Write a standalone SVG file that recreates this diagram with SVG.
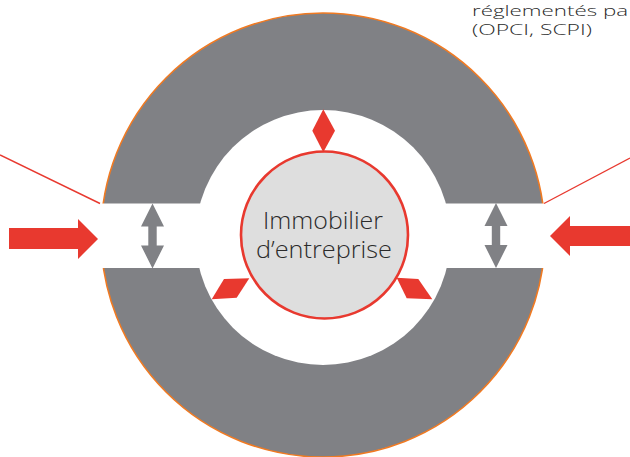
<svg xmlns="http://www.w3.org/2000/svg" width="630" height="457" viewBox="0 0 630 457">
  <style>
    .label { font-family: "Open Sans", "Liberation Sans", sans-serif; font-weight: 300; fill: #2b2b2b; }
    .red { fill: #e8392f; }
    .grey { fill: #808185; }
    .lead { stroke: #e8392f; stroke-width: 1.4; fill: none; }
  </style>
  <defs>
    <!-- vertical two-way arrow, centred on x=0, from y=0 to y=65 -->
    <path id="twoWay" d="M0 0 L11.5 23 L4.2 23 L4.2 42 L11.5 42 L0 65 L-11.5 42 L-4.2 42 L-4.2 23 L-11.5 23 Z"/>
  </defs>

  <rect width="630" height="457" fill="#ffffff"/>

  <!-- outer ring with the horizontal passage -->
  <g id="ring">
    <circle cx="323" cy="235" r="222" fill="#808185" stroke="#f07a22" stroke-width="1.6"/>
    <circle cx="323" cy="237.5" r="127.5" fill="#ffffff"/>
    <rect x="96" y="203.5" width="456" height="64.5" fill="#ffffff"/>
  </g>

  <!-- caption, top right -->
  <g id="caption">
    <text class="label" x="472" y="15.5" font-size="14.5" textLength="156" lengthAdjust="spacingAndGlyphs">réglementés pa</text>
    <text class="label" x="472" y="34.5" font-size="14.5" textLength="120" lengthAdjust="spacingAndGlyphs">(OPCI, SCPI)</text>
  </g>

  <!-- central asset -->
  <g id="hub">
    <circle cx="324.5" cy="235" r="83.5" fill="#dedede" stroke="#e8392f" stroke-width="2.6"/>
    <text class="label" x="263" y="229" font-size="23" textLength="120" lengthAdjust="spacingAndGlyphs">Immobilier</text>
    <text class="label" x="256" y="258" font-size="23" textLength="136" lengthAdjust="spacingAndGlyphs">d’entreprise</text>
  </g>

  <!-- flows -->
  <g id="connectors">
    <line class="lead" x1="0" y1="155" x2="100" y2="203.5"/>
    <line class="lead" x1="630" y1="158" x2="544" y2="203.5"/>

    <polygon class="red" points="9,228 78,228 78,219 98,239 78,259 78,249 9,249"/>
    <polygon class="red" points="630,226 570,226 570,216 550,236 570,256 570,246 630,246"/>

    <use href="#twoWay" class="grey" x="152.5" y="203.5"/>
    <use href="#twoWay" class="grey" x="496" y="203"/>

    <polygon class="red" points="323.3,109.3 335,130.7 323.3,152.3 312.3,130.7"/>
    <polygon class="red" points="211.7,299.3 224,279 249.3,278.3 236.7,297.7"/>
    <polygon class="red" points="396.7,277.7 418.3,279 432.3,299.3 406.7,298.3"/>
  </g>
</svg>
